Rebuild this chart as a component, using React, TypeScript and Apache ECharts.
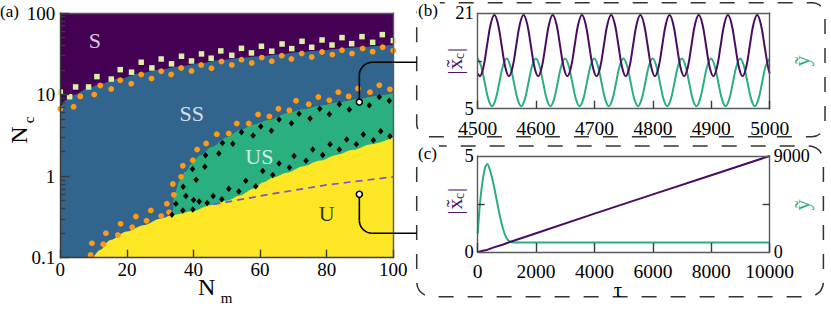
import React, { useEffect, useRef } from "react";
import * as echarts from "echarts";

const SERIF = "Liberation Serif, DejaVu Serif, serif";

// ---------- colours ----------
const C_S = "#440154";
const C_SS = "#32658e";
const C_US = "#2ab07f";
const C_U = "#fde725";
const C_ORANGE = "#ff9a14";
const C_SQUARE = "#d8f1a6";
const C_DASH = "#7b52d8";
const C_LINE_PURPLE = "#4a0c63";
const C_LINE_GREEN = "#2bae81";
const C_AXIS = "#3a3a3a";
const C_FRAME = "#5a5a5a";

// ---------- panel (a) axes ----------
const nmTicks = [0, 20, 40, 60, 80, 100];
const ncTickLabels = ["0.1", "1", "10", "100"];
const ncMinorTicks = [0.2, 0.3, 0.4, 0.5, 0.6, 0.7, 0.8, 0.9, 2, 3, 4, 5, 6, 7, 8, 9, 20, 30, 40, 50, 60, 70, 80, 90];

// ---------- panel (a) region boundaries [Nm, Nc] ----------
const sBoundary: [number, number][] = [
  [0, 6.8], [1.5, 8.5], [4.4, 10], [8, 11.8], [12, 13.5], [18, 15.8], [24, 18.3], [30, 20.3],
  [36, 22.3], [42, 24.2], [48, 26.5], [54, 28], [60, 29.6], [66, 31.3], [72, 33.2], [78, 34.8],
  [84, 36.5], [90, 38.2], [96, 39.7], [100, 40.5],
];
const usBoundary: [number, number][] = [
  [33.8, 0.34], [34.1, 0.56], [35.9, 0.89], [37.5, 1.12], [39.5, 1.43], [42, 1.8], [45.5, 2.28],
  [50, 3.0], [54, 3.66], [58, 4.3], [63, 4.9], [68, 5.9], [73, 6.6], [78, 7.3], [83, 8.0],
  [90, 8.9], [95, 9.6], [100, 10.45],
];
const uBoundary: [number, number][] = [
  [9.9, 0.1], [12, 0.125], [15, 0.165], [20, 0.21], [25, 0.25], [30, 0.3], [34, 0.335], [40, 0.375],
  [45, 0.44], [50, 0.5], [54, 0.58], [58, 0.7], [61, 0.84], [64, 0.96], [68, 1.1], [73, 1.32],
  [78, 1.55], [83, 1.82], [88, 2.1], [93, 2.45], [100, 2.97],
];
const dashedLine: [number, number][] = [[46, 0.45], [64, 0.61], [80, 0.78], [100, 0.98]];

// ---------- panel (a) markers [Nm, Nc] ----------
const squares: [number, number][] = [
  [0, 10.7], [2.8, 9.4], [4.6, 12.4], [8.5, 12.4], [11, 16.6], [15.3, 15.5], [18, 20.2], [21.4, 18.8],
  [24.3, 24.9], [27.5, 21.2], [30.3, 27.3], [33.4, 23.8], [36.4, 29.5], [39.4, 25.8], [42.4, 31.5],
  [45.3, 27.9], [48.2, 34.3], [51.5, 30.3], [54.4, 36.9], [57.4, 32.4], [60.4, 39.1], [63.5, 34],
  [66.6, 41.7], [69.5, 36.6], [72.6, 45], [75.5, 38], [78.6, 46.7], [81.6, 40.5], [84.6, 49.9],
  [87.5, 42.1], [90.6, 51.3], [93.8, 43.7], [96.7, 54.3], [100, 45.8],
];
const orangeUpper: [number, number][] = [
  [0, 6.7], [4, 7.1], [6, 9.5], [10.2, 10], [12, 12.9], [15.3, 11.7], [18, 15], [21.3, 13.6],
  [24.3, 17.6], [27.4, 15.7], [30.3, 19.3], [33.3, 17.6], [36.3, 21.2], [39.4, 19.5], [42.3, 23.1],
  [45.4, 21], [48.4, 25.4], [51.5, 23.1], [54.4, 26.8], [57.5, 24.4], [60.5, 28.4], [63.5, 25.6],
  [66.5, 30], [69.4, 27.3], [72.5, 31.8], [75.5, 28.9], [78.6, 33.3], [81.7, 30.9], [84.6, 34.9],
  [87.6, 31.8], [90.8, 36.6], [93.8, 33.6], [96.8, 38], [100, 34.6],
];
const orangeLower: [number, number][] = [
  [9.1, 0.108], [9.5, 0.15], [12.9, 0.146], [13.7, 0.2], [17.3, 0.19], [18.1, 0.26], [21.6, 0.236],
  [22.7, 0.32], [25.9, 0.284], [27.2, 0.38], [30.3, 0.324], [32, 0.46], [32.7, 0.36], [33.8, 0.8],
  [34.1, 0.59], [36.3, 0.98], [36.8, 1.34], [39.8, 1.57], [41.1, 2.12], [43.8, 2.51], [47, 3.27],
  [50.6, 3.33], [53, 4.42], [56.6, 4.42], [59.4, 5.7], [62.8, 5.4], [65.5, 6.7], [68.8, 6.4],
  [70.8, 8.4], [74.6, 7.6], [77.5, 9.35], [80.8, 8.5], [83.5, 10.7], [86.6, 9.5], [89.4, 11.9],
  [93, 10.7], [95.8, 13], [99, 11.6],
];
const blackUpper: [number, number][] = [
  [34.7, 0.46], [36.9, 0.74], [37.7, 0.57], [39.7, 1.22], [40.8, 0.9], [43.6, 1.8], [43.4, 1.3],
  [47.6, 1.9], [48.7, 2.55], [51.8, 2.5], [54.4, 3.45], [57.9, 3.15], [60.2, 4.05], [63.4, 3.6],
  [65.7, 4.95], [69.4, 4.45], [71.7, 5.8], [75, 5.1], [77.9, 6.7], [80.8, 5.75], [83.8, 7.6],
  [86.8, 6.55], [92.8, 7.4], [95.8, 9.35], [98.8, 8.4],
];
const blackLower: [number, number][] = [
  [33.5, 0.335], [36.8, 0.38], [39.8, 0.39], [40, 0.51], [41.7, 0.49], [44.1, 0.47], [45.9, 0.57],
  [48.5, 0.52], [50.6, 0.7], [53.6, 0.65], [55.7, 0.88], [58.7, 0.75], [60.8, 1.16], [63.8, 1.03],
  [65.7, 1.43], [68.8, 1.28], [70.2, 1.76], [73.8, 1.54], [75.8, 2.12], [78.8, 1.82], [81, 2.46],
  [83.8, 2.12], [86, 2.81], [88.9, 2.46], [91, 3.24], [94, 2.76], [96.2, 3.56], [99, 3.09],
];
const openCircles: [number, number][] = [[89.8, 8.1], [89.8, 0.6]];

const regionNames = ["S", "SS", "US", "U"];
const regionNm = [10.4, 39.5, 59.8, 80];
const regionNc = [46, 5.85, 1.76, 0.35];
const regionColors = ["#ffffff", "#ffffff", "#ffffff", "#000000"];

// ---------- panel (b) ----------
const bTicks = [4500, 4600, 4700, 4800, 4900, 5000];
const bYLabels = [5, 21];
const bYTicks = [13];
const bPurpleT = [
  4500,
  4503.5, 4509.75, 4516, 4522.25, 4528.5, 4534.75, 4541, 4547.25,
  4553.5, 4559.75, 4566, 4572.25, 4578.5, 4584.75, 4591, 4597.25,
  4603.5, 4609.75, 4616, 4622.25, 4628.5, 4634.75, 4641, 4647.25,
  4653.5, 4659.75, 4666, 4672.25, 4678.5, 4684.75, 4691, 4697.25,
  4703.5, 4709.75, 4716, 4722.25, 4728.5, 4734.75, 4741, 4747.25,
  4753.5, 4759.75, 4766, 4772.25, 4778.5, 4784.75, 4791, 4797.25,
  4803.5, 4809.75, 4816, 4822.25, 4828.5, 4834.75, 4841, 4847.25,
  4853.5, 4859.75, 4866, 4872.25, 4878.5, 4884.75, 4891, 4897.25,
  4903.5, 4909.75, 4916, 4922.25, 4928.5, 4934.75, 4941, 4947.25,
  4953.5, 4959.75, 4966, 4972.25, 4978.5, 4984.75, 4991, 4997.25,
  5000,
];
const bPurpleV = [
  10.9,
  10.45, 11.95, 15.6, 19.2, 20.7, 19.2, 15.6, 11.95,
  10.45, 11.95, 15.6, 19.2, 20.7, 19.2, 15.6, 11.95,
  10.45, 11.95, 15.6, 19.2, 20.7, 19.2, 15.6, 11.95,
  10.45, 11.95, 15.6, 19.2, 20.7, 19.2, 15.6, 11.95,
  10.45, 11.95, 15.6, 19.2, 20.7, 19.2, 15.6, 11.95,
  10.45, 11.95, 15.6, 19.2, 20.7, 19.2, 15.6, 11.95,
  10.45, 11.95, 15.6, 19.2, 20.7, 19.2, 15.6, 11.95,
  10.45, 11.95, 15.6, 19.2, 20.7, 19.2, 15.6, 11.95,
  10.45, 11.95, 15.6, 19.2, 20.7, 19.2, 15.6, 11.95,
  10.45, 11.95, 15.6, 19.2, 20.7, 19.2, 15.6, 11.95,
  10.9,
];
const bGreenT = [
  4500,
  4505.75, 4512, 4518.25, 4524.5, 4530.75, 4537, 4543.25, 4549.5,
  4555.75, 4562, 4568.25, 4574.5, 4580.75, 4587, 4593.25, 4599.5,
  4605.75, 4612, 4618.25, 4624.5, 4630.75, 4637, 4643.25, 4649.5,
  4655.75, 4662, 4668.25, 4674.5, 4680.75, 4687, 4693.25, 4699.5,
  4705.75, 4712, 4718.25, 4724.5, 4730.75, 4737, 4743.25, 4749.5,
  4755.75, 4762, 4768.25, 4774.5, 4780.75, 4787, 4793.25, 4799.5,
  4805.75, 4812, 4818.25, 4824.5, 4830.75, 4837, 4843.25, 4849.5,
  4855.75, 4862, 4868.25, 4874.5, 4880.75, 4887, 4893.25, 4899.5,
  4905.75, 4912, 4918.25, 4924.5, 4930.75, 4937, 4943.25, 4949.5,
  4955.75, 4962, 4968.25, 4974.5, 4980.75, 4987, 4993.25, 5000,
];
const bGreenV = [
  13.4,
  12.2, 9.4, 6.6, 5.4, 6.6, 9.4, 12.2, 13.4,
  12.2, 9.4, 6.6, 5.4, 6.6, 9.4, 12.2, 13.4,
  12.2, 9.4, 6.6, 5.4, 6.6, 9.4, 12.2, 13.4,
  12.2, 9.4, 6.6, 5.4, 6.6, 9.4, 12.2, 13.4,
  12.2, 9.4, 6.6, 5.4, 6.6, 9.4, 12.2, 13.4,
  12.2, 9.4, 6.6, 5.4, 6.6, 9.4, 12.2, 13.4,
  12.2, 9.4, 6.6, 5.4, 6.6, 9.4, 12.2, 13.4,
  12.2, 9.4, 6.6, 5.4, 6.6, 9.4, 12.2, 13.4,
  12.2, 9.4, 6.6, 5.4, 6.6, 9.4, 12.2, 13.4,
  12.2, 9.4, 6.6, 5.4, 6.6, 9.4, 12.2, 13.4,
];

// ---------- panel (c) ----------
const cLeftLabels = [0, 5];
const cLeftTicks = [2.5];
const cRightLabels = [0, 9000];
const cRightTicks = [4500];
const cPurple: [number, number][] = [
  [0, 0], [300, 0.1], [550, 0.24], [850, 0.38], [1100, 0.52], [2000, 0.98], [4000, 2.0],
  [6000, 3.0], [8000, 4.0], [10000, 5.0],
];
const cGreen: [number, number][] = [
  [0, 1750], [80, 4600], [160, 6500], [250, 7900], [330, 8250], [420, 7690], [535, 6440],
  [650, 4875], [765, 3310], [880, 2060], [990, 1280], [1110, 970], [1250, 900], [10000, 900],
];

// ---------- layout ----------
const GA = { left: 60.3, top: 13, width: 333, height: 244.7 };
const GB = { left: 477.7, top: 13.3, width: 292, height: 95.4 };
const GC = { left: 477.7, top: 156, width: 292, height: 96 };

const lineSt = { color: C_AXIS, width: 1.4 };
const plain = (v: number) => String(v);
const frameAxis = (gridIndex: number, position: string) => ({
  gridIndex,
  type: "value",
  position,
  min: 0,
  max: 1,
  axisLine: { show: true, onZero: false, lineStyle: { color: C_FRAME, width: 1.4 } },
  axisTick: { show: false },
  axisLabel: { show: false },
  splitLine: { show: false },
  z: 10,
});
const tickLabel = (size: number, margin: number, lineHeight: number) => ({
  color: "#000",
  fontFamily: SERIF,
  fontSize: size,
  lineHeight,
  margin,
  formatter: plain,
});

export default function App() {
  const ref = useRef<HTMLDivElement>(null);
  useEffect(() => {
    const el = ref.current!;
    const chart = echarts.init(el, null, { renderer: "svg" });
    const areaSeries = (data: [number, number][], color: string, z: number) => ({
      type: "line",
      xAxisIndex: 0,
      yAxisIndex: 0,
      data,
      smooth: 0.3,
      smoothMonotone: "x",
      symbol: "none",
      lineStyle: { width: 0, color },
      areaStyle: { color, opacity: 1, origin: "start" },
      z,
      silent: true,
    });
    const option: any = {
      animation: false,
      grid: [
        { ...GA, show: true, backgroundColor: C_S, borderWidth: 0 },
        { ...GB, show: true, backgroundColor: "#fff", borderWidth: 0 },
        { ...GC, show: true, backgroundColor: "#fff", borderWidth: 0 },
      ],
      xAxis: [
        {
          gridIndex: 0, type: "value", min: nmTicks[0], max: nmTicks[nmTicks.length - 1], interval: 20,
          axisLine: { show: true, onZero: false, lineStyle: lineSt },
          axisTick: { show: true, inside: true, length: 8, lineStyle: lineSt },
          axisLabel: tickLabel(19, 4, 15), splitLine: { show: false }, z: 10,
        },
        frameAxis(0, "top"),
        {
          gridIndex: 1, type: "value", min: bTicks[0], max: bTicks[bTicks.length - 1], interval: 100,
          axisLine: { show: true, onZero: false, lineStyle: { color: C_FRAME, width: 1.4 } },
          axisTick: { show: true, inside: true, length: 8, lineStyle: lineSt },
          axisLabel: tickLabel(19.5, 12, 15), splitLine: { show: false }, z: 10,
        },
        frameAxis(1, "top"),
        {
          gridIndex: 2, type: "value", min: 0, max: 10000, interval: 2000,
          axisLine: { show: true, onZero: false, lineStyle: { color: C_FRAME, width: 1.4 } },
          axisTick: { show: true, inside: true, length: 9, lineStyle: lineSt },
          axisLabel: tickLabel(19.5, 12, 15), splitLine: { show: false }, z: 10,
        },
        frameAxis(2, "top"),
      ],
      yAxis: [
        {
          gridIndex: 0, type: "log", logBase: 10, min: 0.1, max: 100, position: "left",
          axisLine: { show: true, onZero: false, lineStyle: lineSt },
          axisTick: { show: true, inside: true, length: 9, lineStyle: lineSt },
          axisLabel: { ...tickLabel(19, 5, 15), formatter: (_v: number, i: number) => ncTickLabels[i] },
          splitLine: { show: false }, minorTick: { show: false }, z: 10,
        },
        {
          gridIndex: 0, type: "value", min: -1, max: 2, position: "left", offset: 0,
          axisLine: { show: false },
          axisTick: { show: true, inside: true, length: 5, lineStyle: lineSt, customValues: ncMinorTicks.map((v) => Math.log10(v)) },
          axisLabel: { show: false }, splitLine: { show: false }, z: 10,
        },
        frameAxis(0, "right"),
        {
          gridIndex: 1, type: "value", min: 5, max: 21, position: "left",
          axisLine: { show: true, onZero: false, lineStyle: { color: C_FRAME, width: 1.4 } },
          axisTick: { show: true, inside: true, length: 4, lineStyle: lineSt, customValues: bYTicks },
          axisLabel: { ...tickLabel(18.5, 4, 14), customValues: bYLabels },
          splitLine: { show: false }, z: 10,
        },
        frameAxis(1, "right"),
        {
          gridIndex: 2, type: "value", min: 0, max: 5, position: "left",
          axisLine: { show: true, onZero: false, lineStyle: { color: C_FRAME, width: 1.4 } },
          axisTick: { show: true, inside: true, length: 7, lineStyle: lineSt, customValues: cLeftTicks },
          axisLabel: { ...tickLabel(18.5, 4, 14), customValues: cLeftLabels },
          splitLine: { show: false }, z: 10,
        },
        {
          gridIndex: 2, type: "value", min: 0, max: 9000, position: "right",
          axisLine: { show: true, onZero: false, lineStyle: { color: C_FRAME, width: 1.4 } },
          axisTick: { show: true, inside: true, length: 7, lineStyle: lineSt, customValues: cRightTicks },
          axisLabel: { ...tickLabel(18, 4, 13), customValues: cRightLabels },
          splitLine: { show: false }, z: 10,
        },
      ],
      series: [
        areaSeries(sBoundary, C_SS, 1),
        areaSeries(usBoundary, C_US, 2),
        areaSeries(uBoundary, C_U, 3),
        {
          type: "line", xAxisIndex: 0, yAxisIndex: 0, data: dashedLine, symbol: "none",
          lineStyle: { color: C_DASH, width: 1.7, type: [7, 5] }, z: 4,
        },
        {
          type: "scatter", xAxisIndex: 0, yAxisIndex: 0, data: squares, symbol: "rect", symbolSize: 5.5,
          itemStyle: { color: C_SQUARE, opacity: 1 }, z: 5,
        },
        {
          type: "scatter", xAxisIndex: 0, yAxisIndex: 0, data: [...orangeUpper, ...orangeLower],
          symbol: "circle", symbolSize: 5.8, itemStyle: { color: C_ORANGE, opacity: 1 }, z: 5,
        },
        {
          type: "scatter", xAxisIndex: 0, yAxisIndex: 0, data: [...blackUpper, ...blackLower],
          symbol: "diamond", symbolSize: [5.5, 6.5], itemStyle: { color: "#000", opacity: 1 }, z: 5,
        },
        {
          type: "scatter", xAxisIndex: 0, yAxisIndex: 0, data: openCircles, symbol: "circle", symbolSize: 6,
          itemStyle: { color: "#fff", borderColor: "#000", borderWidth: 1.6, opacity: 1 }, z: 200,
        },
        {
          type: "scatter", xAxisIndex: 0, yAxisIndex: 0, symbolSize: 1,
          itemStyle: { color: "rgba(0,0,0,0)" },
          data: regionNames.map((n, i) => ({
            value: [regionNm[i], regionNc[i]],
            name: n,
            label: { color: regionColors[i] },
          })),
          label: {
            show: true, position: "inside", formatter: "{b}", fontFamily: SERIF, fontSize: 22,
          },
          z: 150,
        },
        {
          type: "line", xAxisIndex: 2, yAxisIndex: 3, data: bPurpleT.map((t, i) => [t, bPurpleV[i]]),
          smooth: 0.4, symbol: "none", lineStyle: { color: C_LINE_PURPLE, width: 2 }, z: 5,
        },
        {
          type: "line", xAxisIndex: 2, yAxisIndex: 3, data: bGreenT.map((t, i) => [t, bGreenV[i]]),
          smooth: 0.4, symbol: "none", lineStyle: { color: C_LINE_GREEN, width: 2 }, z: 4,
        },
        {
          type: "line", xAxisIndex: 4, yAxisIndex: 5, data: cPurple, smooth: false,
          symbol: "none", lineStyle: { color: C_LINE_PURPLE, width: 2 }, z: 5,
        },
        {
          type: "line", xAxisIndex: 4, yAxisIndex: 6, data: cGreen, smooth: 0.3,
          symbol: "none", lineStyle: { color: C_LINE_GREEN, width: 2 }, z: 4,
        },
      ],
    };
    chart.setOption(option);

    const pUp = chart.convertToPixel({ seriesIndex: 7 }, openCircles[0]) as number[];
    const pDn = chart.convertToPixel({ seriesIndex: 7 }, openCircles[1]) as number[];
    const r = 13;
    const yUp = 62.3;
    const yDn = 233.3;
    const xEnd = 416.7;
    const conn = { stroke: "#000", lineWidth: 1.6, fill: "none" };

    const txt = (text: string, x: number, y: number, size: number, fill = "#000", rot = 0, extra: any = {}) => ({
      type: "text",
      x,
      y,
      rotation: rot,
      z: 120,
      style: {
        text, x: 0, y: 0, fontSize: size, lineHeight: Math.round(size * 0.8), fontFamily: SERIF, fill,
        align: "center", verticalAlign: "middle", ...extra,
      },
    });
    const R90 = Math.PI / 2;
    const purpleTxt = "#4d1466";
    const greenTxt = "#2bae81";

    const graphic: any[] = [
      {
        type: "rect", z: 100, shape: { x: 416.7, y: 2.7, width: 408.3, height: 134, r: 13 },
        style: { fill: "none", stroke: "#333", lineWidth: 1.5, lineDash: [15, 14] },
      },
      {
        type: "rect", z: 100, shape: { x: 416.7, y: 146, width: 406.7, height: 150.7, r: 15 },
        style: { fill: "none", stroke: "#333", lineWidth: 1.5, lineDash: [15, 14] },
      },
      { type: "line", z: 110, shape: { x1: pUp[0], y1: pUp[1], x2: pUp[0], y2: yUp + r }, style: conn },
      { type: "arc", z: 110, shape: { cx: pUp[0] + r, cy: yUp + r, r, startAngle: Math.PI, endAngle: 1.5 * Math.PI }, style: conn },
      { type: "line", z: 110, shape: { x1: pUp[0] + r, y1: yUp, x2: xEnd, y2: yUp }, style: conn },
      { type: "line", z: 110, shape: { x1: pDn[0], y1: pDn[1], x2: pDn[0], y2: yDn - r }, style: conn },
      { type: "arc", z: 110, shape: { cx: pDn[0] + r, cy: yDn - r, r, startAngle: 0.5 * Math.PI, endAngle: Math.PI }, style: conn },
      { type: "line", z: 110, shape: { x1: pDn[0] + r, y1: yDn, x2: xEnd, y2: yDn }, style: conn },
      txt("(a)", 0, 11, 17, "#000", 0, { align: "left" }),
      txt("(b)", 417, 10.5, 17, "#000", 0, { align: "left", backgroundColor: "#fff", padding: [2, 2, 2, 1] }),
      txt("(c)", 417, 153.5, 17, "#000", 0, { align: "left", backgroundColor: "#fff", padding: [2, 2, 2, 1] }),
      txt("N", 18.8, 135, 24, "#000", R90),
      txt("c", 29, 120, 15, "#000", R90),
      txt("N", 206.7, 286.5, 24),
      txt("m", 226.5, 297.5, 15),
      txt("|", 454, 72.5, 22, purpleTxt, R90),
      txt("x\u0303", 454, 64, 22, purpleTxt, R90),
      txt("c", 459, 56, 14, purpleTxt, R90),
      txt("|", 454, 50, 22, purpleTxt, R90),
      txt("\u1EF9", 801, 61, 22, greenTxt, R90),
      txt("|", 454, 212.5, 22, purpleTxt, R90),
      txt("x\u0303", 454, 204, 22, purpleTxt, R90),
      txt("c", 459, 196, 14, purpleTxt, R90),
      txt("|", 454, 190, 22, purpleTxt, R90),
      txt("\u1EF9", 801, 205, 22, greenTxt, R90),
      txt("\u03C4", 618, 290, 21),
    ];
    chart.setOption({ graphic: { elements: graphic } });
    return () => chart.dispose();
  }, []);
  return <div ref={ref} style={{ position: "absolute", left: 0, top: 0, width: 831, height: 312 }} />;
}
